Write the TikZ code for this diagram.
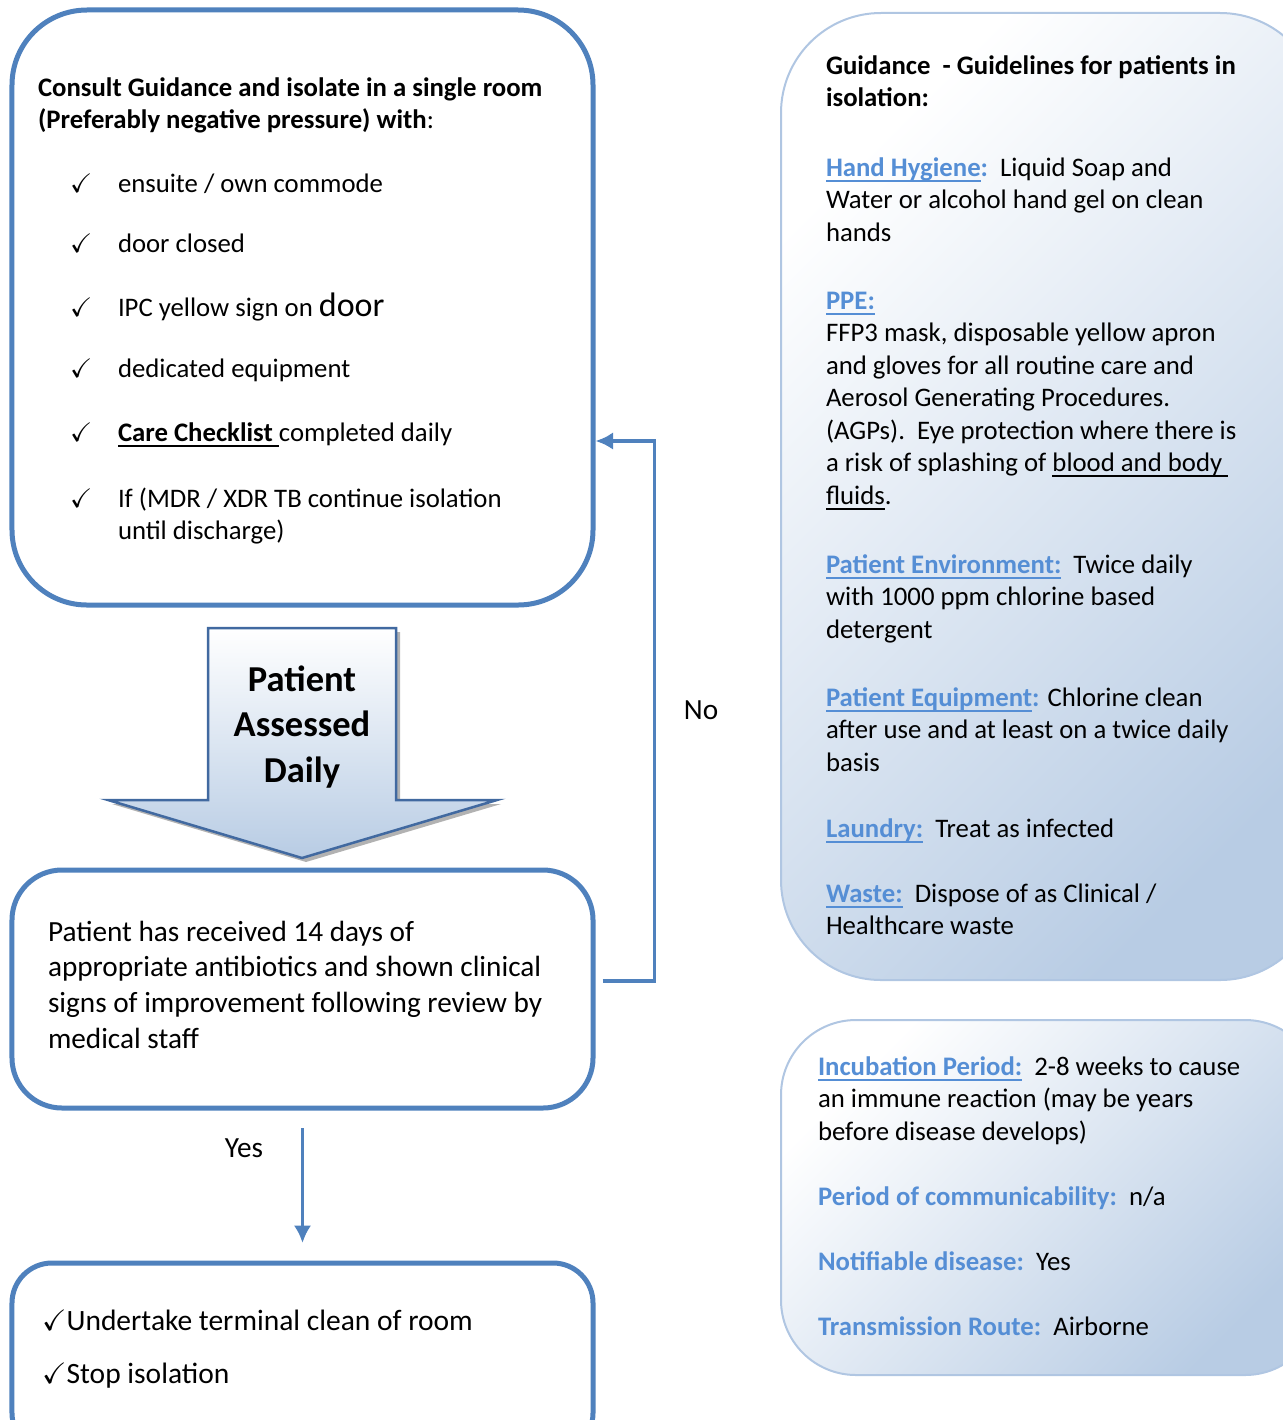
\documentclass[tikz,border=0pt]{standalone}
\usepackage{amsmath,amssymb}
\usepackage{fontspec}
\setmainfont{Carlito}
\usetikzlibrary{arrows,arrows.meta,shapes}

\definecolor{boxblue}{RGB}{79,129,189}
\definecolor{headblue}{RGB}{85,142,213}
\definecolor{paleblue}{RGB}{184,204,228}
\definecolor{rimblue}{RGB}{176,198,226}
\definecolor{arrowrim}{RGB}{65,105,160}

\newcommand{\ulbar}[1]{\leavevmode\setbox0\hbox{#1}\rlap{\rule[-2.2pt]{\wd0}{0.7pt}}\box0}
\newcommand{\tick}{$\checkmark$}

\begin{document}
\begin{tikzpicture}[x=0.4pt, y=-0.4pt, >={Latex[length=7pt,width=7pt]}]
	\useasboundingbox (0,0) rectangle (1283,1420);
	\clip (0,0) rectangle (1283,1420);

	\tikzstyle{flowbox} = [draw=boxblue, line width=2pt, fill=white, rectangle]
	\tikzstyle{infobox} = [draw=rimblue, line width=0.8pt, rectangle, top color=white, bottom color=paleblue, shading angle=45]
	\tikzstyle{flow} = [draw=boxblue, line width=1.4pt, ->]

	% boxes
	\node[flowbox, rounded corners=30pt, minimum width=232.4pt, minimum height=238pt] (isolate) at (302.5,307.5) {};
	\node[flowbox, rounded corners=20pt, minimum width=232.4pt, minimum height=95.2pt] (review) at (302.5,989) {};
	\node[flowbox, rounded corners=16pt, minimum width=232.4pt, minimum height=76pt] (finish) at (302.5,1358) {};
	\node[infobox, rounded corners=40pt, minimum width=215.6pt, minimum height=386.8pt] (guide) at (1050.5,496.5) {};
	\node[infobox, rounded corners=30pt, minimum width=215.6pt, minimum height=142pt] (facts) at (1050.5,1197.5) {};

	% block arrow
	\fill[gray!60] (212,632) -- (400,632) -- (400,804) -- (501,804) -- (306,862) -- (112,804) -- (212,804) -- cycle;
	\draw[arrowrim, line width=1pt, top color=white, bottom color=paleblue] (208,628) -- (396,628) -- (396,800) -- (497,800) -- (302,858) -- (108,800) -- (208,800) -- cycle;

	\tikzstyle{every node} = [inner sep=0pt, outer sep=0pt, anchor=base west, align=flush left]

	% text of the first box
	\node[text width=230pt, font=\fontsize{10.7}{12.8}\selectfont] (ihead) at (38,96) {\textbf{Consult Guidance and isolate in a single room}\\\textbf{(Preferably negative pressure) with}:};
	\foreach \y/\n in {192/1, 252/2, 316/3, 377/4, 441/5, 507/6}
		\node[font=\fontsize{10.7}{12.8}\selectfont] (tick\n) at (70,\y) {\tick};
	\node[font=\fontsize{10.7}{12.8}\selectfont] (item1) at (118,192) {ensuite / own commode};
	\node[font=\fontsize{10.7}{12.8}\selectfont] (item2) at (118,252) {door closed};
	\node[font=\fontsize{10.7}{12.8}\selectfont] (item3) at (118,316) {IPC yellow sign on {\fontsize{13.6}{14}\selectfont door}};
	\node[font=\fontsize{10.7}{12.8}\selectfont] (item4) at (118,377) {dedicated equipment};
	\node[font=\fontsize{10.7}{12.8}\selectfont] (item5) at (118,441) {\ulbar{\textbf{Care Checklist}\ }completed daily};
	\node[text width=200pt, font=\fontsize{10.7}{12.8}\selectfont] (item6) at (118,507) {If (MDR / XDR TB continue isolation\\until discharge)};

	% arrow text
	\node[anchor=base, align=center, font=\fontsize{14.6}{18.2}\selectfont\bfseries] (assess) at (302,782) {Patient\\Assessed\\Daily};

	% text of the second and third box
	\node[text width=225pt, font=\fontsize{11.7}{14.3}\selectfont] (rtext) at (48,941) {Patient has received 14 days of\\appropriate antibiotics and shown clinical\\signs of improvement following review by\\medical staff};
	\node[font=\fontsize{11.8}{15}\selectfont] (done1) at (42,1330) {\tick Undertake terminal clean of room};
	\node[font=\fontsize{11.8}{15}\selectfont] (done2) at (42,1383) {\tick Stop isolation};

	% guidance text
	\tikzstyle{guide text} = [text width=225pt, font=\fontsize{10.7}{13}\selectfont]
	\node[guide text] (g0) at (826,74) {\textbf{Guidance\ \ - Guidelines for patients in}\\\textbf{isolation:}};
	\node[guide text] (g1) at (826,176) {{\color{headblue}\bfseries\ulbar{Hand Hygiene}:}\ \ Liquid Soap and\\Water or alcohol hand gel on clean\\hands};
	\node[guide text] (g2) at (826,309) {{\color{headblue}\bfseries\ulbar{PPE:}}\\FFP3 mask, disposable yellow apron\\and gloves for all routine care and\\Aerosol Generating Procedures.\\(AGPs).\ \ Eye protection where there is\\a risk of splashing of \ulbar{blood and body\ }\\\ulbar{fluids}.};
	\node[guide text] (g3) at (826,573) {{\color{headblue}\bfseries\ulbar{Patient Environment:}}\ \ Twice daily\\with 1000 ppm chlorine based\\detergent};
	\node[guide text] (g4) at (826,706) {{\color{headblue}\bfseries\ulbar{Patient Equipment}:} Chlorine clean\\after use and at least on a twice daily\\basis};
	\node[guide text] (g5) at (826,837) {{\color{headblue}\bfseries\ulbar{Laundry:}}\ \ Treat as infected};
	\node[guide text] (g6) at (826,902) {{\color{headblue}\bfseries\ulbar{Waste:}}\ \ Dispose of as Clinical /\\Healthcare waste};

	\node[guide text] (f1) at (818,1075) {{\color{headblue}\bfseries\ulbar{Incubation Period:}}\ \ 2-8 weeks to cause\\an immune reaction (may be years\\before disease develops)};
	\node[guide text] (f2) at (818,1205) {{\color{headblue}\bfseries Period of communicability:}\ \ n/a};
	\node[guide text] (f3) at (818,1270) {{\color{headblue}\bfseries Notifiable disease:}\ \ Yes};
	\node[guide text] (f4) at (818,1335) {{\color{headblue}\bfseries Transmission Route:}\ \ Airborne};

	% connectors
	\tikzstyle{every node} = [font=\fontsize{11.7}{14}\selectfont]
	\draw[flow, shorten <=2.8pt] ([yshift=3.2pt]review.east) -- ++(59,0) |- ([yshift=-53.4pt]isolate.east);
	\node (no) at (701,710) {No};
	\draw[flow, shorten <=7pt, shorten >=7pt] (review.south) -- (finish.north);
	\node (yes) at (244,1148) {Yes};
\end{tikzpicture}
\end{document}
